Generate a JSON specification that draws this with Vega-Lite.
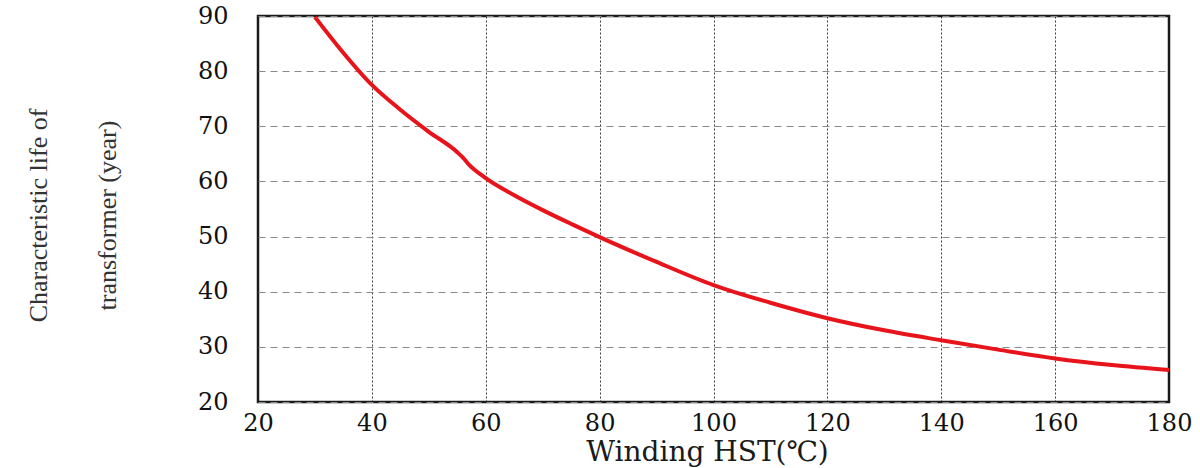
{
  "$schema": "https://vega.github.io/schema/vega-lite/v6.json",
  "width": 911,
  "height": 386,
  "autosize": {"type": "none"},
  "padding": {"left": 258, "top": 16, "right": 31, "bottom": 66},
  "background": "white",
  "config": {
    "view": {"stroke": "#1a1a1a", "strokeWidth": 2.5},
    "axis": {"labelFont": "DejaVu Serif", "labelFontSize": 24, "labelColor": "#111111", "domain": false, "ticks": false}
  },
  "data": {
    "values": [
      {"hst": 30, "life": 89.8},
      {"hst": 35, "life": 83.3},
      {"hst": 40, "life": 77.5},
      {"hst": 45, "life": 73.0},
      {"hst": 50, "life": 69.0},
      {"hst": 55, "life": 65.3},
      {"hst": 56, "life": 64.3},
      {"hst": 57, "life": 63.1},
      {"hst": 60, "life": 60.6},
      {"hst": 65, "life": 57.5},
      {"hst": 70, "life": 54.8},
      {"hst": 75, "life": 52.3},
      {"hst": 80, "life": 49.9},
      {"hst": 90, "life": 45.4},
      {"hst": 100, "life": 41.2},
      {"hst": 110, "life": 38.0},
      {"hst": 120, "life": 35.2},
      {"hst": 130, "life": 33.0},
      {"hst": 140, "life": 31.2},
      {"hst": 150, "life": 29.5},
      {"hst": 160, "life": 27.9},
      {"hst": 170, "life": 26.7},
      {"hst": 180, "life": 25.8}
    ]
  },
  "mark": {"type": "line", "color": "#e8141b", "strokeWidth": 4, "interpolate": "monotone", "clip": true},
  "encoding": {
    "x": {
      "field": "hst",
      "type": "quantitative",
      "scale": {"domain": [20, 180], "nice": false, "zero": false},
      "axis": {
        "values": [20, 40, 60, 80, 100, 120, 140, 160, 180],
        "labelPadding": 9,
        "labelFlush": false,
        "grid": true,
        "gridColor": "#1a1a1a",
        "gridDash": [2, 2],
        "gridWidth": 1,
        "gridOpacity": 0.85,
        "title": "Winding HST(℃)",
        "titleFont": "DejaVu Serif",
        "titleFontSize": 28,
        "titleFontWeight": "normal",
        "titleColor": "#1a1a1a",
        "titleX": 449,
        "titleY": 58,
        "titleAlign": "center",
        "titleBaseline": "alphabetic"
      }
    },
    "y": {
      "field": "life",
      "type": "quantitative",
      "scale": {"domain": [20, 90], "nice": false, "zero": false},
      "axis": {
        "values": [20, 30, 40, 50, 60, 70, 80, 90],
        "labelPadding": 30,
        "labelFlush": false,
        "grid": true,
        "gridColor": "#8a8a8a",
        "gridDash": [7, 5],
        "gridWidth": 1.2,
        "title": ["Characteristic life of", "transformer (year)"],
        "titleFont": "Liberation Serif",
        "titleFontSize": 26,
        "titleFontWeight": "normal",
        "titleColor": "#333333",
        "titleLineHeight": 69,
        "titleAngle": -90,
        "titleX": -212,
        "titleY": 199,
        "titleAlign": "center",
        "titleBaseline": "alphabetic"
      }
    }
  }
}
